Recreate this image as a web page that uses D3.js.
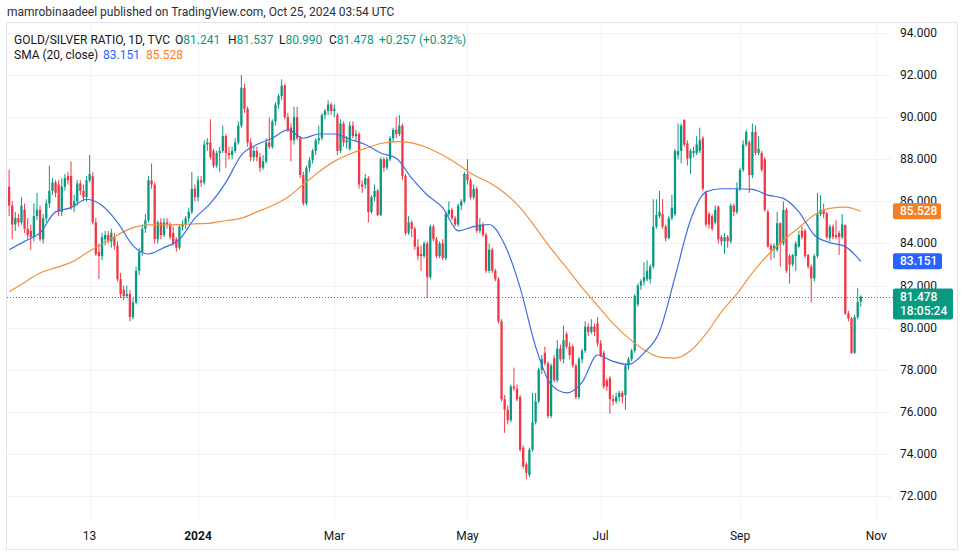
<!DOCTYPE html>
<html>
<head>
<meta charset="utf-8">
<script src="https://cdn.jsdelivr.net/npm/d3@7"></script>
<style>
  body { margin: 0; background: #fff; }
  svg { display: block; font-family: Roboto, "Trebuchet MS", sans-serif; }
</style>
</head>
<body>
<svg id="chart" width="962" height="553"></svg>
<script>
// daily bars, weekdays only, first bar Oct 6 2023
const startDate = "2023-10-06";

const opens = [
  86.7, 85.8, 84.9, 85.2, 85.0, 85.6, 84.7, 84.6, 84.3, 85.3,
  85.6, 84.2, 85.2, 85.9, 86.5, 86.9, 86.8, 85.5, 86.7, 87.2,
  87.2, 85.75, 86.0, 86.85, 86.5, 86.2, 87.0, 87.2, 85.0, 83.6,
  83.4, 84.2, 84.4, 84.1, 84.3, 83.9, 82.3, 81.8, 81.5, 81.6,
  80.5, 81.2, 82.7, 83.6, 84.7, 85.1, 87.0, 86.8, 84.2, 85.0,
  84.4, 85.0, 84.9, 84.5, 84.2, 83.8, 84.8, 84.9, 85.2, 85.5,
  86.6, 86.2, 87.0, 86.9, 88.7, 88.8, 88.4, 87.7, 88.3, 88.4,
  89.1, 88.3, 88.2, 88.4, 88.8, 89.6, 91.4, 90.4, 88.8, 88.1,
  88.4, 88.1, 87.6, 87.9, 88.8, 88.6, 89.8, 90.6, 91.0, 91.5,
  90.0, 89.5, 88.9, 90.0, 89.0, 87.25, 85.9, 87.6, 87.95, 88.4,
  88.9, 89.0, 90.1, 90.3, 90.6, 90.3, 90.1, 88.4, 89.7, 88.8,
  88.5, 89.6, 89.1, 89.2, 86.8, 86.8, 87.1, 85.5, 86.2, 86.5,
  85.35, 88.0, 87.6, 88.0, 89.0, 89.4, 89.2, 89.6, 87.2, 84.5,
  85.0, 84.7, 83.85, 83.5, 83.4, 84.0, 82.4, 84.8, 84.2, 83.4,
  84.0, 83.3, 85.4, 85.6, 85.2, 84.9, 85.8, 86.0, 87.3, 87.0,
  86.2, 86.6, 84.6, 84.9, 84.4, 82.7, 83.7, 82.7, 82.3, 80.3,
  76.6, 76.1, 75.6, 77.2, 77.1, 76.7, 74.3, 73.5, 73.0, 74.2,
  75.5, 76.5, 78.0, 78.8, 78.3, 75.8, 78.55, 77.5, 79.0, 78.5,
  79.7, 79.1, 79.1, 78.2, 76.7, 78.5, 78.9, 80.05, 79.8, 80.05,
  80.2, 79.25, 78.8, 77.5, 77.6, 76.6, 76.5, 76.7, 76.9, 76.8,
  78.2, 78.5, 78.9, 81.1, 82.0, 82.2, 82.3, 82.3, 82.9, 84.8,
  85.3, 85.4, 84.8, 84.25, 85.2, 85.4, 88.2, 88.4, 89.87, 88.76,
  88.04, 88.3, 88.3, 88.4, 89.0, 86.4, 85.4, 85.3, 85.0, 85.75,
  84.3, 84.1, 84.3, 84.1, 85.8, 85.5, 86.6, 87.5, 88.7, 88.8,
  87.25, 89.3, 88.3, 88.3, 88.0, 85.5, 83.9, 83.7, 83.7, 84.96,
  84.0, 85.6, 83.4, 83.0, 83.4, 83.85, 84.6, 84.6, 83.45, 82.9,
  82.34, 83.4, 85.4, 85.6, 85.43, 84.25, 84.8, 84.4, 84.5, 84.3,
  84.88, 80.68, 80.44, 78.8, 80.5, 81.241
];

const highs = [
  87.5, 86.0, 85.5, 85.4, 86.2, 85.9, 85.2, 84.9, 85.9, 86.4,
  85.8, 85.4, 86.1, 87.7, 87.1, 87.0, 87.0, 87.1, 87.3, 87.4,
  87.9, 86.3, 87.0, 87.0, 86.8, 87.2, 88.2, 87.4, 85.2, 84.0,
  84.5, 84.6, 84.6, 84.7, 84.5, 84.1, 82.6, 82.0, 82.0, 81.8,
  81.4, 82.9, 83.8, 84.9, 85.4, 87.2, 87.8, 86.9, 85.1, 85.2,
  85.2, 85.2, 85.0, 84.8, 84.3, 84.9, 85.1, 85.3, 85.7, 87.4,
  86.8, 87.2, 87.2, 88.9, 89.0, 89.9, 88.5, 88.4, 88.6, 89.6,
  89.2, 88.6, 88.6, 89.0, 89.8, 92.0, 91.6, 90.5, 89.0, 88.6,
  88.6, 88.3, 88.2, 89.0, 90.0, 89.9, 90.7, 91.1, 91.8, 91.6,
  90.2, 89.7, 90.5, 90.5, 89.1, 87.4, 87.7, 88.1, 88.5, 89.0,
  89.6, 90.2, 90.4, 90.8, 90.7, 90.6, 90.2, 89.9, 89.8, 89.1,
  89.8, 89.8, 89.4, 89.3, 87.0, 87.3, 87.2, 86.3, 86.8, 86.6,
  88.1, 88.1, 88.1, 89.1, 89.5, 90.0, 90.1, 89.7, 87.3, 85.3,
  85.1, 84.8, 84.2, 83.9, 84.1, 84.1, 84.9, 84.9, 84.3, 84.1,
  84.2, 85.5, 86.0, 85.7, 85.3, 85.9, 86.1, 87.4, 88.0, 87.1,
  86.8, 86.7, 85.2, 85.0, 84.5, 84.0, 83.8, 82.8, 82.4, 80.4,
  76.8, 76.3, 77.3, 78.1, 77.3, 76.8, 74.4, 73.6, 74.3, 76.9,
  76.9, 78.1, 78.7, 79.1, 78.4, 78.3, 78.7, 79.4, 79.2, 80.1,
  79.8, 79.3, 79.2, 78.3, 78.6, 79.0, 80.3, 80.2, 80.4, 80.2,
  80.5, 79.4, 78.9, 77.6, 77.7, 76.8, 76.9, 77.0, 77.0, 78.3,
  78.6, 79.0, 81.6, 82.1, 82.3, 83.1, 83.2, 83.0, 86.1, 86.1,
  86.5, 86.1, 84.9, 85.3, 86.3, 88.5, 89.7, 89.7, 89.9, 88.9,
  88.5, 88.6, 89.1, 89.5, 89.1, 86.5, 85.5, 85.4, 85.8, 85.8,
  84.4, 84.5, 84.4, 85.9, 85.9, 86.9, 87.6, 88.9, 89.4, 88.9,
  89.7, 89.6, 89.1, 88.4, 88.1, 85.6, 84.0, 84.0, 85.5, 85.0,
  86.0, 85.7, 83.5, 83.5, 84.1, 84.6, 84.8, 84.7, 83.5, 83.0,
  83.5, 86.4, 86.3, 85.9, 85.5, 84.9, 84.9, 85.1, 84.6, 85.4,
  84.9, 80.8, 80.5, 80.6, 81.87, 81.537
];

const lows = [
  85.3, 84.2, 84.6, 84.8, 84.9, 84.5, 84.2, 83.7, 84.1, 85.1,
  84.1, 84.0, 85.0, 85.7, 86.3, 86.2, 85.3, 85.3, 86.5, 86.8,
  85.6, 85.5, 85.8, 86.3, 86.0, 86.0, 86.9, 84.9, 83.4, 82.3,
  83.2, 83.9, 84.0, 83.8, 83.7, 82.2, 81.4, 81.3, 81.4, 80.3,
  80.4, 81.1, 82.5, 83.4, 84.5, 85.0, 86.6, 84.0, 84.0, 84.2,
  84.3, 84.7, 84.2, 83.9, 83.6, 83.7, 84.6, 84.7, 85.0, 85.4,
  86.0, 86.0, 86.7, 86.8, 88.4, 88.0, 87.6, 87.6, 87.4, 88.3,
  87.6, 88.0, 88.0, 88.3, 88.7, 89.5, 90.2, 88.6, 87.9, 87.9,
  87.9, 87.4, 87.5, 87.8, 88.5, 88.5, 89.6, 90.4, 90.8, 89.9,
  89.3, 87.9, 88.7, 88.9, 87.1, 85.8, 85.8, 87.4, 87.8, 88.2,
  88.7, 88.9, 89.9, 90.1, 90.1, 90.0, 88.2, 88.3, 88.6, 88.5,
  88.4, 89.0, 88.9, 86.6, 86.4, 86.6, 85.0, 85.4, 86.0, 85.3,
  85.3, 87.4, 87.5, 87.9, 88.8, 89.0, 89.1, 87.0, 84.4, 84.4,
  84.3, 83.7, 83.2, 82.7, 83.3, 81.4, 82.3, 84.1, 83.3, 83.3,
  83.2, 83.2, 85.3, 85.1, 84.8, 84.8, 85.6, 85.9, 86.8, 86.1,
  86.1, 84.5, 84.5, 84.3, 82.6, 82.6, 82.6, 82.2, 80.2, 76.5,
  75.0, 75.4, 75.5, 77.0, 76.5, 74.1, 73.3, 72.8, 72.9, 74.1,
  75.4, 76.4, 77.8, 78.2, 75.7, 75.7, 77.4, 77.4, 78.4, 78.3,
  79.0, 78.5, 78.1, 76.6, 76.6, 78.3, 78.8, 79.6, 79.7, 79.6,
  79.1, 78.6, 77.1, 77.0, 75.9, 76.3, 76.4, 76.5, 76.4, 76.1,
  78.0, 78.4, 78.8, 81.0, 81.8, 82.0, 82.2, 82.1, 82.8, 84.7,
  85.2, 84.7, 84.1, 84.2, 85.1, 85.3, 88.0, 87.8, 88.6, 87.7,
  87.3, 88.1, 88.2, 88.3, 86.5, 84.8, 84.7, 84.6, 84.9, 84.0,
  83.9, 83.5, 83.8, 84.0, 85.3, 85.4, 86.5, 87.4, 88.6, 86.4,
  87.1, 88.2, 88.2, 87.4, 85.5, 83.8, 83.2, 83.3, 83.6, 82.9,
  83.9, 82.6, 82.1, 82.9, 82.7, 83.8, 84.2, 83.3, 82.8, 81.2,
  82.2, 83.3, 85.3, 85.2, 84.2, 84.1, 84.2, 84.2, 83.45, 84.2,
  80.6, 80.3, 78.75, 78.75, 80.4, 80.99
];

const closes = [
  85.8, 84.9, 85.2, 85.0, 85.8, 84.7, 84.4, 84.3, 85.3, 85.6,
  84.2, 85.2, 85.9, 86.5, 86.9, 86.4, 85.5, 86.7, 87.1, 87.0,
  85.75, 86.0, 86.85, 86.5, 86.2, 87.0, 87.3, 85.0, 83.5, 83.4,
  84.3, 84.4, 84.1, 84.5, 83.9, 82.3, 81.6, 81.5, 81.6, 80.5,
  81.2, 82.7, 83.6, 84.7, 85.1, 87.0, 86.8, 84.2, 85.0, 84.4,
  85.0, 84.9, 84.3, 84.0, 83.8, 84.8, 84.9, 85.2, 85.5, 86.6,
  86.2, 87.0, 86.9, 88.7, 88.8, 88.1, 87.7, 88.3, 88.4, 89.1,
  88.3, 88.2, 88.4, 88.8, 89.6, 91.4, 90.4, 88.8, 88.1, 88.4,
  88.1, 87.6, 87.9, 88.8, 88.6, 89.8, 90.6, 91.0, 91.5, 90.0,
  89.4, 88.9, 90.0, 89.0, 87.25, 85.9, 87.6, 87.95, 88.4, 88.9,
  89.0, 90.1, 90.3, 90.6, 90.3, 90.4, 88.4, 89.7, 88.8, 88.9,
  89.6, 89.1, 89.2, 86.8, 86.7, 87.1, 85.5, 86.2, 86.5, 85.35,
  88.0, 87.6, 88.0, 89.0, 89.4, 89.2, 89.6, 87.2, 84.5, 85.0,
  84.7, 83.85, 83.4, 83.4, 84.0, 82.4, 84.8, 84.2, 83.4, 84.0,
  83.3, 85.4, 85.6, 85.2, 84.9, 85.8, 86.0, 87.3, 87.0, 86.2,
  86.6, 84.6, 84.9, 84.4, 82.7, 83.7, 82.7, 82.3, 80.3, 76.6,
  76.1, 75.6, 77.2, 77.1, 76.6, 74.2, 73.4, 73.1, 74.2, 75.5,
  76.5, 78.0, 78.5, 78.3, 75.8, 78.2, 77.5, 79.0, 78.5, 79.4,
  79.1, 78.7, 78.2, 76.7, 78.5, 78.9, 80.05, 79.8, 80.05, 79.8,
  79.25, 78.7, 77.2, 77.2, 76.6, 76.5, 76.7, 76.9, 76.7, 78.2,
  78.5, 78.9, 81.5, 82.0, 82.2, 82.4, 82.7, 82.9, 84.8, 85.35,
  85.5, 84.8, 84.25, 85.2, 85.7, 88.4, 88.4, 89.6, 88.7, 88.04,
  88.4, 88.4, 88.7, 88.9, 86.6, 84.9, 84.9, 84.7, 85.6, 84.2,
  84.1, 84.3, 84.1, 85.8, 85.5, 86.6, 87.5, 88.7, 89.3, 87.25,
  89.3, 88.3, 88.5, 87.5, 85.6, 83.85, 83.7, 83.9, 84.96, 84.0,
  85.6, 82.7, 83.0, 83.45, 84.0, 84.4, 84.3, 83.4, 82.9, 82.34,
  83.4, 85.43, 85.6, 85.4, 84.3, 84.8, 84.3, 84.3, 84.3, 84.9,
  80.68, 80.44, 78.8, 80.5, 81.221, 81.478
];

// SMA readings taken every 5th bar (bar 0, 5, 10 ... 275)
const smaStep = 5;
const sma20 = [
  83.7, 84.1, 84.5, 85.5, 85.7, 86.1, 85.8, 85.0, 83.9, 83.5,
  83.8, 84.2, 85.2, 85.9, 86.9, 88.2, 88.7, 89.0, 89.4, 89.0,
  89.2, 89.2, 88.95, 88.7, 88.3, 88.05, 87.1, 86.3, 85.7, 84.6,
  84.8, 84.9, 83.95, 81.9, 79.1, 77.3, 76.9, 77.4, 78.7, 78.4,
  78.25, 78.8, 79.8, 82.4, 85.1, 86.45, 86.6, 86.6, 86.57, 86.3,
  86.14, 85.5, 84.4, 84.04, 83.85, 83.151
];
const smaLong = [
  81.7, 82.15, 82.6, 82.85, 83.1, 83.55, 83.97, 84.4, 84.75, 84.88,
  84.88, 84.9, 84.93, 84.97, 85.08, 85.2, 85.5, 85.8, 86.2, 86.8,
  87.4, 87.9, 88.25, 88.52, 88.75, 88.84, 88.78, 88.55, 88.2, 87.75,
  87.25, 86.9, 86.4, 85.7, 84.75, 83.75, 82.85, 81.9, 81.05, 80.2,
  79.5, 78.95, 78.6, 78.55, 78.9, 79.7, 80.75, 81.6, 82.6, 83.45,
  84.15, 84.75, 85.35, 85.67, 85.73, 85.528
];

const tickDates = ["2023-11-13", "2024-01-01", "2024-03-01", "2024-05-01", "2024-07-01", "2024-09-02", "2024-11-01"];
const tickLabels = ["13", "2024", "Mar", "May", "Jul", "Sep", "Nov"];
const priceTicks = [94, 92, 90, 88, 86, 84, 82, 80, 78, 76, 74, 72];

const colors = {
  up: "#089981",
  down: "#f23645",
  sma20: "#3d6de6",
  smaLong: "#f0913f",
  smaLongBox: "#f57f22",
  sma20Box: "#2962ff",
  grid: "#f0f2f5",
  text: "#131722"
};

function weekdayIndex(dateStr) {
  const end = new Date(dateStr + "T00:00:00Z");
  let n = 0;
  for (let d = new Date(startDate + "T00:00:00Z"); d < end; d.setUTCDate(d.getUTCDate() + 1)) {
    const wd = d.getUTCDay();
    if (wd !== 0 && wd !== 6) n++;
  }
  return n;
}

const plot = { left: 7, right: 891, top: 23, bottom: 520 };

const svg = d3.select("#chart");

const x = d3.scaleLinear().domain([0, closes.length - 1]).range([9.1, 860.8]);
const y = d3.scaleLinear().domain([72, 94]).range([496, 33]);

const bars = closes.map((c, i) => ({ i, o: opens[i], h: highs[i], l: lows[i], c }));

// header
svg.append("text")
  .attr("x", 7).attr("y", 16)
  .attr("font-size", 12)
  .attr("fill", "#2a2e39")
  .text("mamrobinaadeel published on TradingView.com, Oct 25, 2024 03:54 UTC");

// frame
svg.append("rect")
  .attr("x", 6.5).attr("y", 22.5)
  .attr("width", 951).attr("height", 527)
  .attr("fill", "none")
  .attr("stroke", "#e0e3eb");

// grid
const grid = svg.append("g");
grid.selectAll(".hg")
  .data(priceTicks)
  .enter()
  .append("line")
  .attr("x1", plot.left).attr("x2", plot.right)
  .attr("y1", d => Math.round(y(d)) + 0.5)
  .attr("y2", d => Math.round(y(d)) + 0.5)
  .attr("stroke", colors.grid);

const ticks = tickDates.map((d, k) => ({ idx: weekdayIndex(d), label: tickLabels[k] }));

grid.selectAll(".vg")
  .data(ticks)
  .enter()
  .append("line")
  .attr("x1", d => Math.round(x(d.idx)) + 0.5)
  .attr("x2", d => Math.round(x(d.idx)) + 0.5)
  .attr("y1", plot.top).attr("y2", plot.bottom)
  .attr("stroke", colors.grid);

// plot area
svg.append("clipPath").attr("id", "clip")
  .append("rect")
  .attr("x", plot.left).attr("y", plot.top)
  .attr("width", plot.right - plot.left)
  .attr("height", plot.bottom - plot.top);

const g = svg.append("g").attr("clip-path", "url(#clip)");

const candle = g.selectAll(".candle")
  .data(bars)
  .enter()
  .append("g")
  .attr("class", "candle");

candle.append("line")
  .attr("x1", d => x(d.i)).attr("x2", d => x(d.i))
  .attr("y1", d => y(d.h)).attr("y2", d => y(d.l))
  .attr("stroke", d => d.c >= d.o ? colors.up : colors.down)
  .attr("stroke-width", 1);

candle.append("rect")
  .attr("x", d => x(d.i) - 1.15)
  .attr("width", 2.3)
  .attr("y", d => y(Math.max(d.o, d.c)))
  .attr("height", d => Math.max(1, Math.abs(y(d.o) - y(d.c))))
  .attr("fill", d => d.c >= d.o ? colors.up : colors.down);

// moving averages
const smaLine = d3.line()
  .x((d, k) => x(k * smaStep))
  .y(d => y(d))
  .curve(d3.curveMonotoneX);

g.append("path")
  .datum(smaLong)
  .attr("d", smaLine)
  .attr("fill", "none")
  .attr("stroke", colors.smaLong)
  .attr("stroke-width", 1.2);

g.append("path")
  .datum(sma20)
  .attr("d", smaLine)
  .attr("fill", "none")
  .attr("stroke", colors.sma20)
  .attr("stroke-width", 1.2);

// last price line
const last = bars[bars.length - 1];
const prevClose = closes[closes.length - 2];
svg.append("line")
  .attr("x1", plot.left).attr("x2", 893)
  .attr("y1", Math.round(y(last.c)) + 0.5)
  .attr("y2", Math.round(y(last.c)) + 0.5)
  .attr("stroke", colors.up)
  .attr("stroke-dasharray", "1,2");

// price axis
const fmt = d3.format(".3f");
svg.append("g")
  .selectAll("text")
  .data(priceTicks)
  .enter()
  .append("text")
  .attr("x", 900)
  .attr("y", d => y(d) + 4)
  .attr("font-size", 12)
  .attr("fill", colors.text)
  .text(d => fmt(d));

// time axis
svg.append("g")
  .selectAll("text")
  .data(ticks)
  .enter()
  .append("text")
  .attr("x", d => x(d.idx))
  .attr("y", 540)
  .attr("text-anchor", "middle")
  .attr("font-size", 12)
  .attr("font-weight", d => d.label === "2024" ? 700 : 400)
  .attr("fill", colors.text)
  .text(d => d.label);

// price boxes
function priceBox(value, color, w, lines) {
  const h = lines.length > 1 ? 31 : 16;
  const top = y(value) - 8;
  const box = svg.append("g");
  box.append("rect")
    .attr("x", 893).attr("y", top)
    .attr("width", w).attr("height", h)
    .attr("rx", 2)
    .attr("fill", color);
  lines.forEach((t, k) => {
    box.append("text")
      .attr("x", 900)
      .attr("y", top + 12 + k * 14)
      .attr("font-size", 12)
      .attr("font-weight", 500)
      .attr("fill", "#fff")
      .text(t);
  });
}
priceBox(smaLong[smaLong.length - 1], colors.smaLongBox, 48, [fmt(smaLong[smaLong.length - 1])]);
priceBox(sma20[sma20.length - 1], colors.sma20Box, 49, [fmt(sma20[sma20.length - 1])]);
priceBox(last.c, colors.up, 60, [fmt(last.c), "18:05:24"]);

// legend
const change = last.c - prevClose;
const pct = change / prevClose * 100;
const legend1 = svg.append("text")
  .attr("y", 44)
  .attr("font-size", 12)
  .attr("fill", colors.text);
legend1.append("tspan").attr("x", 14).text("GOLD/SILVER RATIO, 1D, TVC");
[["O", last.o, 175], ["H", last.h, 228], ["L", last.l, 279], ["C", last.c, 329]].forEach(([k, v, px]) => {
  legend1.append("tspan").attr("x", px).text(k);
  legend1.append("tspan").attr("fill", colors.up).text(fmt(v));
});
legend1.append("tspan").attr("x", 379).attr("fill", colors.up)
  .text("+" + fmt(change) + " (+" + pct.toFixed(2) + "%)");

const legend2 = svg.append("text")
  .attr("y", 59)
  .attr("font-size", 12)
  .attr("fill", colors.text);
legend2.append("tspan").attr("x", 14).text("SMA (20, close)");
legend2.append("tspan").attr("x", 103).attr("fill", colors.sma20Box).text(fmt(sma20[sma20.length - 1]));
legend2.append("tspan").attr("x", 146).attr("fill", colors.smaLongBox).text(fmt(smaLong[smaLong.length - 1]));
</script>
</body>
</html>
